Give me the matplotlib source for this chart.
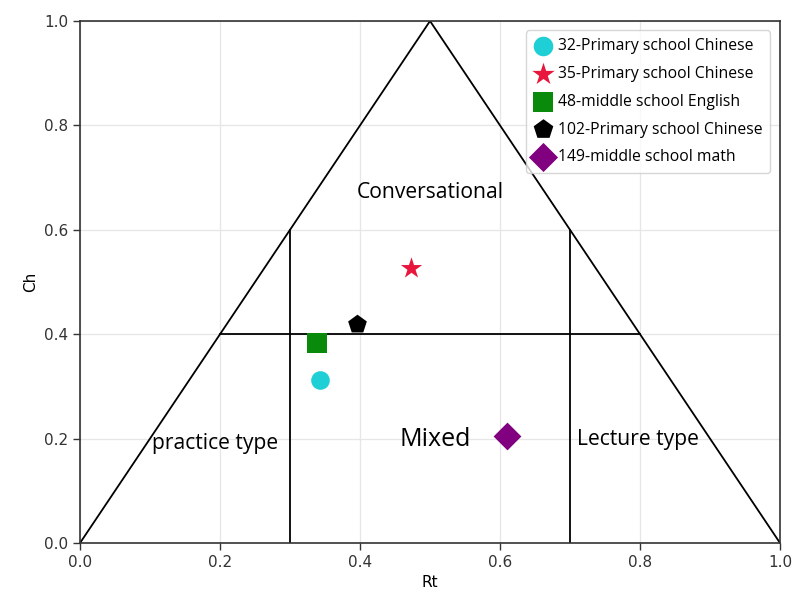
import matplotlib
matplotlib.use("Agg")
import matplotlib.pyplot as plt

# classroom samples: Rt (teacher talk ratio) vs Ch (change rate)
labels = [
    "32-Primary school Chinese",
    "35-Primary school Chinese",
    "48-middle school English",
    "102-Primary school Chinese",
    "149-middle school math",
]
rt = [0.343, 0.473, 0.339, 0.396, 0.610]
ch = [0.312, 0.527, 0.383, 0.420, 0.205]
colors = ["#1ecfd6", "#e8163c", "#0a8a0a", "#000000", "#800080"]
markers = ["o", "*", "s", "p", "D"]
sizes = [180, 260, 190, 200, 200]

# region boundaries of the Rt-Ch diagram
tri_x = [0.0, 0.5, 1.0]
tri_y = [0.0, 1.0, 0.0]
split_y = 0.4
split_x = [0.2, 0.8]
vert_x = [0.3, 0.7]
vert_top = 0.6

region_names = ["Conversational", "practice type", "Mixed", "Lecture type"]
region_pos = [(0.501, 0.672), (0.193, 0.19), (0.507, 0.198), (0.797, 0.198)]
region_size = [15.2, 15.2, 18, 15.2]

fig = plt.figure(figsize=(7.97, 5.95), dpi=100)
ax = fig.add_axes([0.1004, 0.0874, 0.8783, 0.8773])

ax.grid(True, color="#e6e6e6", linewidth=0.9)
ax.set_axisbelow(True)

ax.plot(tri_x, tri_y, color="black", linewidth=1.3)
ax.plot(split_x, [split_y, split_y], color="black", linewidth=1.3)
for x in vert_x:
    ax.plot([x, x], [0, vert_top], color="black", linewidth=1.3)

for name, (x, y), fs in zip(region_names, region_pos, region_size):
    ax.text(x, y, name, ha="center", va="center", fontsize=fs,
            family="Open Sans")

for x, y, c, m, s, lab in zip(rt, ch, colors, markers, sizes, labels):
    ax.scatter(x, y, c=c, marker=m, s=s, label=lab, zorder=5, linewidths=0)

ax.set_xlim(0, 1)
ax.set_ylim(0, 1)
ticks = [0.0, 0.2, 0.4, 0.6, 0.8, 1.0]
ax.set_xticks(ticks)
ax.set_yticks(ticks)
ax.set_xticklabels([f"{t:.1f}" for t in ticks])
ax.set_yticklabels([f"{t:.1f}" for t in ticks])
ax.tick_params(labelsize=11, length=5, width=1.0, colors="#333333")
for spine in ax.spines.values():
    spine.set_color("#333333")
    spine.set_linewidth(1.2)
ax.set_xlabel("Rt", fontsize=11)
ax.set_ylabel("Ch", fontsize=11)

leg = ax.legend(loc="upper right", frameon=True, borderpad=0.5,
                labelspacing=0.75, handletextpad=0.3, handlelength=1.2,
                markerscale=1.05, bbox_to_anchor=(0.997, 0.997),
                prop={"family": "Open Sans", "size": 11.3})
leg.get_frame().set_edgecolor("#cccccc")

fig.savefig("out.png", dpi=100, facecolor="white")
